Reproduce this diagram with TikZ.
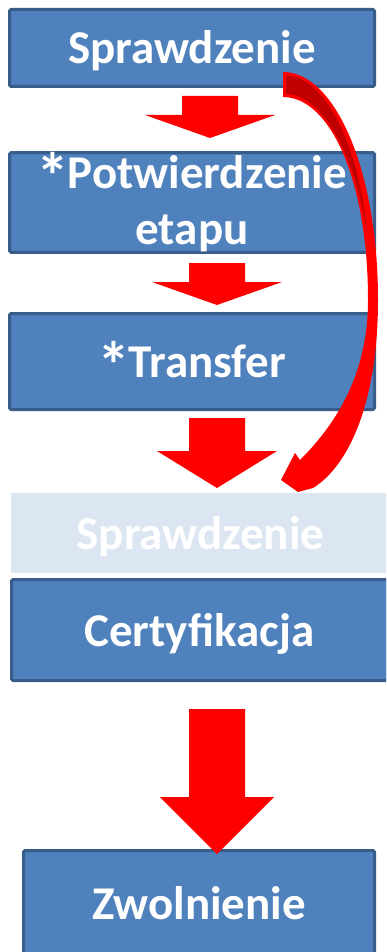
\documentclass[tikz,border=0pt]{standalone}
\usepackage{fontspec}
\setmainfont{Carlito}
\definecolor{boxblue}{HTML}{4F81BD}
\definecolor{boxedge}{HTML}{385D8A}
\definecolor{paleblue}{HTML}{DCE6F2}
\definecolor{darkred}{HTML}{C00000}
% down arrow: centre x, top, head top, tip, half shaft, half head
\newcommand{\blockarrow}[6]{%
  \fill[red] (#1-#5,#2) -- (#1+#5,#2) -- (#1+#5,#3) -- (#1+#6,#3) -- (#1,#4)
    -- (#1-#6,#3) -- (#1-#5,#3) -- cycle;}
\newcommand{\bigast}{\raisebox{-11pt}{\fontsize{66}{55}\selectfont*}\kern-2pt}
\begin{document}
\begin{tikzpicture}[x=1pt,y=-1pt,
  stage/.style={draw=boxedge, fill=boxblue, line width=3pt, rounded corners=1.5pt,
    inner sep=0pt, text=white, align=center,
    font=\fontsize{47}{56}\selectfont\bfseries},
  oneline/.style={text height=40pt, text depth=8pt},
  faded/.style={fill=paleblue, inner sep=0pt, text=white,
    font=\fontsize{47}{56}\selectfont\bfseries, text height=40pt, text depth=8pt}]
\useasboundingbox (0,0) rectangle (386,952);
\clip (0,0) rectangle (386,952);
\fill[white] (0,0) rectangle (386,952);
\node[stage, oneline, minimum width=365pt, minimum height=77pt] (spr) at (192,48) {Sprawdzenie};
\node[stage, minimum width=365pt, minimum height=96pt] (pot) at (192,202.5) {\bigast Potwierdzenie\\etapu};
\node[stage, oneline, minimum width=365pt, minimum height=96pt] (tra) at (192,361.5) {\bigast Transfer};
\node[faded, minimum width=379pt, minimum height=80pt] (spr2) at (200.5,533) {Sprawdzenie};
\node[stage, oneline, minimum width=376pt, minimum height=101pt] (cer) at (199.5,630) {Certyfikacja};
\node[stage, oneline, minimum width=351pt, minimum height=105pt] (zwo) at (199,903) {Zwolnienie};
\blockarrow{210}{96}{115}{138}{28}{65}
\blockarrow{217}{263}{282}{305}{28}{65}
\blockarrow{217}{418}{451}{488}{28}{60}
\blockarrow{217}{709}{797}{854}{28}{57}
% skip arrow from the first check down to the second one
\fill[red] (283,72) .. controls (335,72) and (378,170) .. (378,300)
  .. controls (378,400) and (350,465) .. (313,488)
  -- (298,492) -- (281,480) -- (295,453) -- (300,460)
  .. controls (340,420) and (368,370) .. (368,300)
  .. controls (368,180) and (330,97) .. (283,97) -- cycle;
\fill[darkred] (286,75.5) .. controls (330,77) and (362,160) .. (367,235)
  .. controls (358,165) and (325,94) .. (286,94) -- cycle;
\end{tikzpicture}
\end{document}
